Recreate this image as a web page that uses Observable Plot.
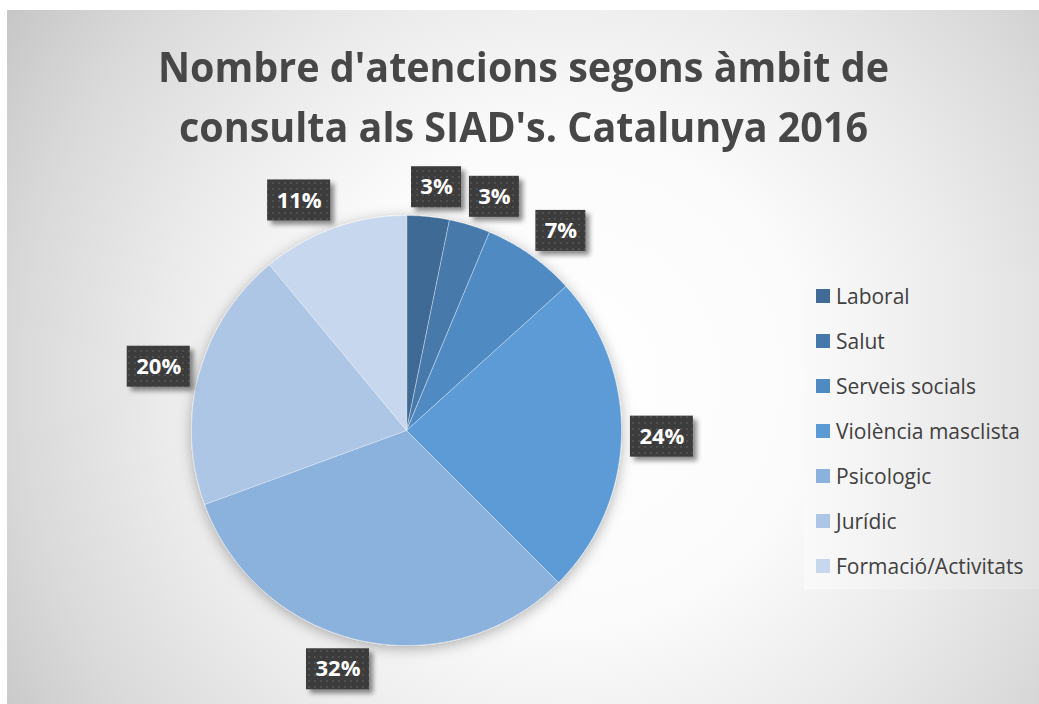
<!DOCTYPE html>
<html><head><meta charset="utf-8">
<script src="https://cdn.jsdelivr.net/npm/d3@7"></script>
<script src="https://cdn.jsdelivr.net/npm/@observablehq/plot@0.6"></script>
<style>
body{margin:0;background:#fff;}
#wrap{position:relative;width:1039px;height:704px;overflow:hidden;font-family:"Open Sans",sans-serif;}
#bg{position:absolute;left:7px;top:10px;right:0;bottom:0;background:radial-gradient(circle 700px at 560px 370px,#ffffff 0%,#fbfbfb 35%,#ebebeb 58%,#dadada 78%,#c2c2c2 100%);}
#title{position:absolute;left:7px;top:36px;width:1032px;text-align:center;font-weight:700;font-size:42px;line-height:60px;color:#474747;transform:scaleX(0.94);transform-origin:525px 0;}
#legend{position:absolute;left:804px;top:273px;width:235px;height:316px;background:linear-gradient(to right,#fafafa,#e3e3e3);}
.item{position:absolute;left:12px;height:24px;display:flex;align-items:center;font-size:21px;color:#404040;white-space:nowrap;}
.sw{width:14px;height:14px;margin-right:6px;flex:none;}
#chart{position:absolute;left:0;top:150px;}
</style></head>
<body>
<div id="wrap">
  <div id="bg"></div>
  <div id="title">Nombre d'atencions segons àmbit de<br>consulta als SIAD's. Catalunya 2016</div>
  <div id="chart"></div>
  <div id="legend"></div>
</div>
<script>
// ---- data ----
const categories = ["Laboral","Salut","Serveis socials","Violència masclista","Psicologic","Jurídic","Formació/Activitats"];
const shares = [3.2, 3.1, 7.0, 24.2, 31.9, 19.6, 11.0];
const colors = ["#3f6b96","#4679ab","#4f8bc2","#5b9bd5","#8bb1dd","#adc6e6","#c6d7ee"];

// ---- layout ----
const W = 1039, H = 554, CX = 406, CY = 280, R = 215;

const arcs = d3.pie().sort(null).value(d => d)(shares);

// slice outlines (unit circle, y up)
const slicePts = [];
arcs.forEach((a, i) => {
  const cat = categories[i];
  slicePts.push({cat, x: 0, y: 0});
  const n = Math.max(2, Math.ceil((a.endAngle - a.startAngle) / 0.01));
  for (let k = 0; k <= n; k++) {
    const t = a.startAngle + (a.endAngle - a.startAngle) * k / n;
    slicePts.push({cat, x: Math.sin(t), y: Math.cos(t)});
  }
});

// data labels ("outside end")
const total = d3.sum(shares);
const gap = 9 / R;
const clamp = v => Math.max(-1, Math.min(1, v));
const labelData = arcs.map((a, i) => {
  const text = Math.round(shares[i] / total * 100) + "%";
  const w = (text.length * 13 + 24) / R, h = 41 / R;
  const m = (a.startAngle + a.endAngle) / 2;
  const ux = Math.sin(m), uy = Math.cos(m);
  const x = ux * (1 + gap) + (w / 2) * clamp(3 * ux);
  const y = uy * (1 + gap) + (h / 2) * clamp(uy);
  return {text, x, y, x1: x - w/2, x2: x + w/2, y1: y - h/2, y2: y + h/2};
});

const svg = Plot.plot({
  width: W, height: H,
  margin: 0,
  style: {background: "transparent", fontFamily: "Open Sans"},
  x: {domain: [-CX / R, (W - CX) / R], range: [0, W], axis: null},
  y: {domain: [-(H - CY) / R, CY / R], range: [H, 0], axis: null},
  color: {domain: categories, range: colors},
  marks: [
    Plot.line(slicePts, {x: "x", y: "y", z: "cat", fill: "cat", stroke: "#ffffff", strokeWidth: 0.8, strokeOpacity: 0.5, curve: "linear-closed"}),
    Plot.rect(labelData, {x1: "x1", x2: "x2", y1: "y1", y2: "y2", fill: "#000", fillOpacity: 0.45, dx: 4, dy: 4}),
    Plot.rect(labelData, {x1: "x1", x2: "x2", y1: "y1", y2: "y2", fill: "url(#dots)"}),
    Plot.text(labelData, {x: "x", y: "y", text: "text", fill: "#ffffff", fontSize: 22, fontWeight: "bold", fontFamily: "Open Sans"})
  ]
});

// defs: dotted pattern + shadows
const sel = d3.select(svg);
const defs = sel.insert("defs", ":first-child");
const pat = defs.append("pattern").attr("id", "dots").attr("patternUnits", "userSpaceOnUse").attr("width", 6).attr("height", 6);
pat.append("rect").attr("width", 6).attr("height", 6).attr("fill", "#3c3c3c");
pat.append("circle").attr("cx", 3).attr("cy", 3).attr("r", 1).attr("fill", "#575757");
const f1 = defs.append("filter").attr("id", "blur").attr("x", "-30%").attr("y", "-30%").attr("width", "160%").attr("height", "160%");
f1.append("feGaussianBlur").attr("stdDeviation", 2.5);
const f2 = defs.append("filter").attr("id", "pieShadow").attr("x", "-20%").attr("y", "-20%").attr("width", "140%").attr("height", "140%");
f2.append("feDropShadow").attr("dx", 0).attr("dy", 3).attr("stdDeviation", 7).attr("flood-color", "#000").attr("flood-opacity", 0.3);
const groups = sel.selectAll(":scope > g").nodes();
d3.select(groups[0]).attr("filter", "url(#pieShadow)");
d3.select(groups[1]).attr("filter", "url(#blur)");

document.getElementById("chart").appendChild(svg);

// legend
const leg = d3.select("#legend");
categories.forEach((c, i) => {
  const it = leg.append("div").attr("class", "item").style("top", (11 + 45 * i) + "px");
  it.append("div").attr("class", "sw").style("background", colors[i]);
  it.append("span").text(c);
});
</script>
</body></html>
